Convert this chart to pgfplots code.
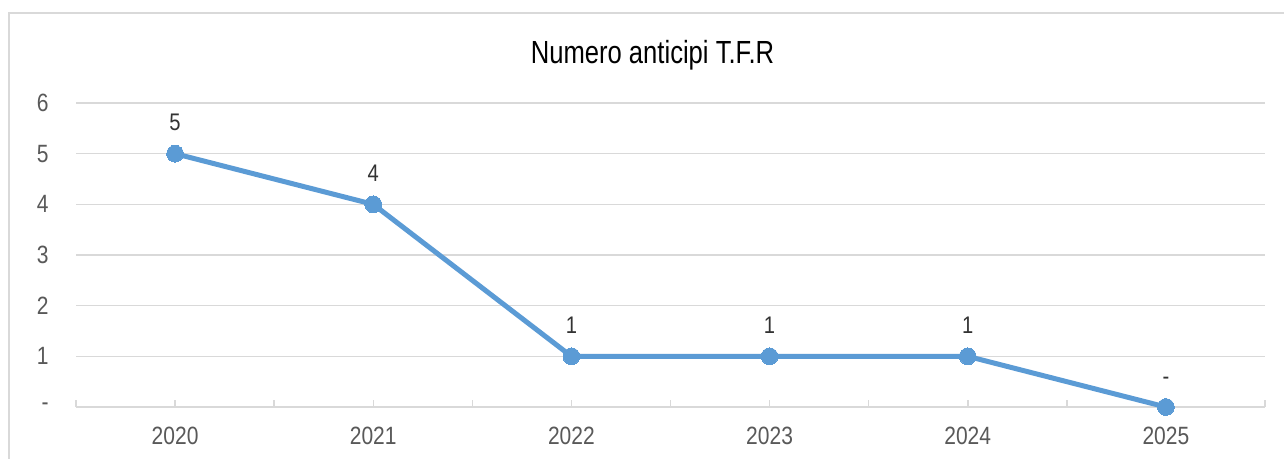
\documentclass[border=0pt]{standalone}
\usepackage{fontspec}
\setmainfont{Liberation Sans}[FakeStretch=0.84]
\newfontfamily\titlefont{Liberation Sans}[FakeStretch=0.8]
\usepackage{pgfplots}
\pgfplotsset{compat=1.18}
\definecolor{lineblue}{RGB}{91,155,213}
\definecolor{gridgray}{RGB}{217,217,217}
\definecolor{labgray}{RGB}{89,89,89}
\begin{document}
\begin{tikzpicture}
\path[use as bounding box, fill=white] (0,0) rectangle (642bp,-229.5bp);
\draw[gridgray, line width=0.75bp] (4.5bp,-229.5bp) -- (4.5bp,-6.5bp) -- (642bp,-6.5bp);
\node[anchor=base, inner sep=0pt, font=\titlefont\fontsize{16bp}{19bp}\selectfont, text=black] at (326.25bp,-31.65bp) {Numero anticipi T.F.R};
\begin{axis}[
  scale only axis,
  width=594.5bp, height=152bp,
  at={(38bp,-203.5bp)}, anchor=south west,
  xmin=-0.5, xmax=5.5, ymin=0, ymax=6,
  axis lines*=left,
  y axis line style={draw=none},
  x axis line style={gridgray, line width=0.75bp},
  ymajorgrids, grid style={gridgray, line width=0.75bp},
  ytick={0,1,2,3,4,5,6},
  yticklabels={{-\hspace{5.5bp}},1,2,3,4,5,6},
  ytick style={draw=none},
  xtick={0,1,2,3,4,5},
  xticklabels={2020,2021,2022,2023,2024,2025},
  minor xtick={-0.5,0.5,1.5,2.5,3.5,4.5,5.5},
  tick align=inside,
  major tick length=3.5bp, minor tick length=3.5bp,
  x tick style={gridgray, line width=0.75bp},
  xticklabel style={anchor=north, inner sep=0pt, yshift=-10bp, font=\fontsize{12.5bp}{15bp}\selectfont, text=labgray},
  yticklabel style={anchor=east, inner sep=0pt, xshift=-13.5bp, font=\fontsize{12.5bp}{15bp}\selectfont, text=labgray},
  clip=false,
  point meta=explicit symbolic,
  nodes near coords,
  every node near coord/.append style={anchor=base, inner sep=0pt, yshift=11.5bp, font=\fontsize{12bp}{15bp}\selectfont, text=black!80},
]
\addplot[color=lineblue, line width=2.5bp, mark=*, mark size=4.2bp, mark options={fill=lineblue, draw=lineblue, line width=0pt}]
  coordinates {(0,5)[5] (1,4)[4] (2,1)[1] (3,1)[1] (4,1)[1] (5,0)[-]};
\end{axis}
\end{tikzpicture}
\end{document}
